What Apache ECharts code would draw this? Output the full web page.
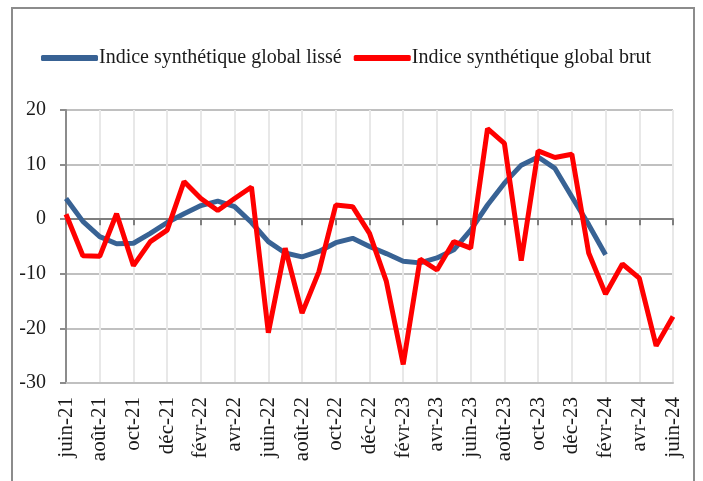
<!DOCTYPE html>
<html>
<head>
<meta charset="utf-8">
<script src="https://cdn.jsdelivr.net/npm/echarts@6/dist/echarts.min.js"></script>
<style>
  html, body { margin: 0; padding: 0; background: #fff; }
  #chart { width: 703px; height: 481px; }
</style>
</head>
<body>
<div id="chart"></div>
<script>
// mois de juin-21 à juin-24
const months = [
  'juin-21', 'juil-21', 'août-21', 'sept-21', 'oct-21', 'nov-21', 'déc-21',
  'janv-22', 'févr-22', 'mars-22', 'avr-22', 'mai-22', 'juin-22', 'juil-22',
  'août-22', 'sept-22', 'oct-22', 'nov-22', 'déc-22', 'janv-23', 'févr-23',
  'mars-23', 'avr-23', 'mai-23', 'juin-23', 'juil-23', 'août-23', 'sept-23',
  'oct-23', 'nov-23', 'déc-23', 'janv-24', 'févr-24', 'mars-24', 'avr-24',
  'mai-24', 'juin-24'
]

const lisse = [
  3.8, -0.4, -3.2, -4.5, -4.4, -2.6, -0.6, 1.0, 2.5, 3.3, 2.3, -0.6,
  -4.1, -6.2, -6.9, -5.9, -4.3, -3.5, -5.0, -6.3, -7.7, -8.0, -7.1, -5.6,
  -2.0, 2.6, 6.6, 9.9, 11.4, 9.3, 4.1, -1.0, -6.5, '-', '-', '-', '-'
]

const brut = [
  0.9, -6.7, -6.8, 1.0, -8.5, -4.1, -2.0, 6.9, 3.8, 1.6, 3.8, 5.9,
  -20.8, -5.3, -17.2, -9.6, 2.6, 2.3, -2.6, -11.4, -26.6, -7.3, -9.3, -4.1,
  -5.3, 16.6, 13.9, -7.6, 12.5, 11.3, 11.9, -6.2, -13.7, -8.2, -10.8, -23.2, -17.8
]

const font = 'Liberation Serif'

const my_echart = echarts.init(document.getElementById('chart'), null, {renderer: 'canvas'})

my_echart.setOption({
  animation: false,
  graphic: [
    {
      type: 'rect',
      shape: {x: 12, y: 8, width: 682, height: 490},
      style: {fill: 'none', stroke: '#8c8c8c', lineWidth: 2},
      silent: true
    }
  ],
  legend: {
    left: 36,
    top: 43,
    itemWidth: 57,
    itemHeight: 6,
    itemGap: 12,
    icon: 'roundRect',
    textStyle: {
      fontFamily: font,
      fontSize: 20,
      color: '#1a1a1a',
      padding: [0, 0, 0, -4]
    },
    data: ['Indice synthétique global lissé', 'Indice synthétique global brut']
  },
  grid: {
    left: 66,
    right: 30,
    top: 110,
    bottom: 98,
    containLabel: false
  },
  xAxis: [
    {
      type: 'category',
      data: months,
      boundaryGap: false,
      axisLine: {onZero: false, lineStyle: {color: '#c0c0c0', width: 2}},
      axisTick: {show: false},
      axisLabel: {
        interval: 1,
        rotate: 90,
        margin: 14,
        fontFamily: font,
        fontSize: 21,
        color: '#1a1a1a'
      },
      splitLine: {
        show: true,
        interval: 1,
        lineStyle: {color: '#e8e8e8', width: 2}
      }
    },
    {
      // ligne du zéro avec ses graduations
      type: 'category',
      data: months,
      boundaryGap: false,
      position: 'bottom',
      axisLine: {show: true, onZero: true, lineStyle: {color: '#7f7f7f', width: 2}},
      axisTick: {show: true, interval: 1, length: 6, inside: false, lineStyle: {color: '#7f7f7f', width: 2}},
      axisLabel: {show: false},
      splitLine: {show: false}
    }
  ],
  yAxis: {
    type: 'value',
    min: -30,
    max: 20,
    interval: 10,
    axisLine: {show: true, lineStyle: {color: '#8c8c8c', width: 2}},
    axisTick: {show: true, length: 6, lineStyle: {color: '#8c8c8c', width: 2}},
    axisLabel: {
      margin: 20,
      fontFamily: font,
      fontSize: 20,
      color: '#1a1a1a'
    },
    splitLine: {lineStyle: {color: '#c0c0c0', width: 2}}
  },
  series: [
    {
      name: 'Indice synthétique global lissé',
      type: 'line',
      data: lisse,
      showSymbol: false,
      symbol: 'none',
      color: '#386294',
      lineStyle: {width: 5, color: '#386294'}
    },
    {
      name: 'Indice synthétique global brut',
      type: 'line',
      data: brut,
      showSymbol: false,
      symbol: 'none',
      color: '#ff0000',
      lineStyle: {width: 5, color: '#ff0000'}
    }
  ]
})
</script>
</body>
</html>
